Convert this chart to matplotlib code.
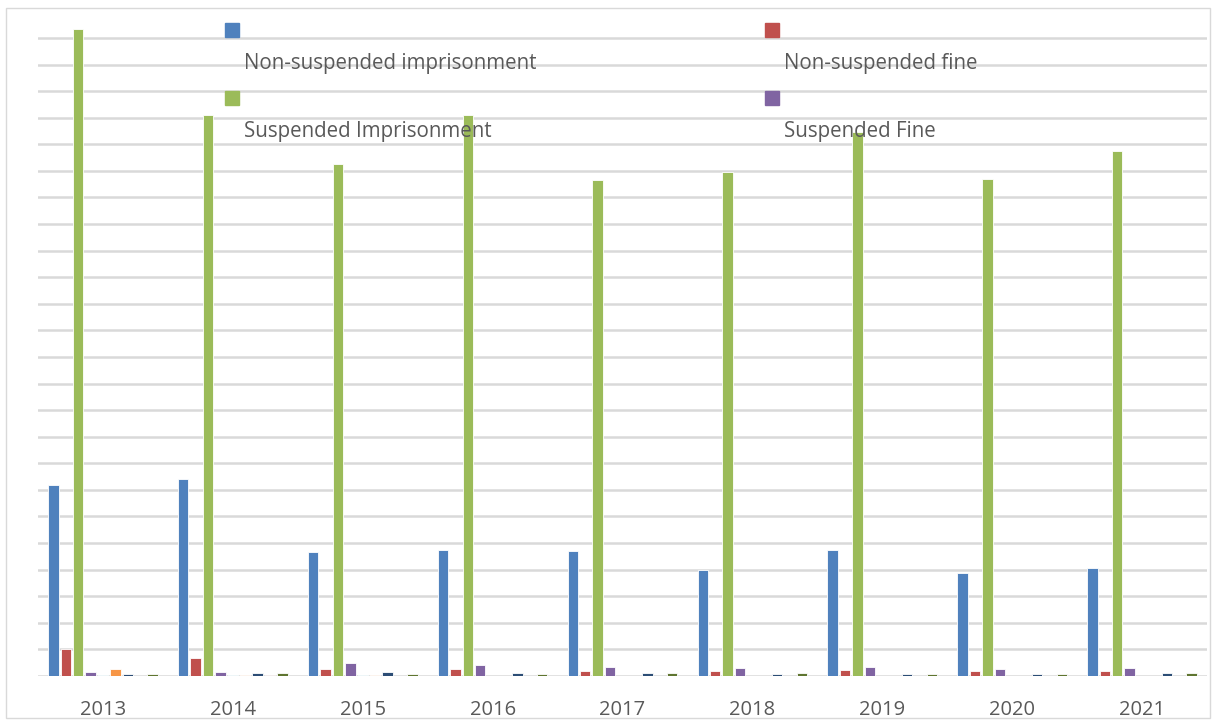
import numpy as np
import matplotlib
matplotlib.use("Agg")
import matplotlib.pyplot as plt
from matplotlib.patches import Rectangle

plt.rcParams['font.family'] = ['Open Sans', 'DejaVu Sans']

years = ["2013", "2014", "2015", "2016", "2017", "2018", "2019", "2020", "2021"]

# values, in gridline units (the chart has no y labels)
non_susp_imprisonment = [7.17, 7.42, 4.67, 4.73, 4.69, 4.00, 4.73, 3.86, 4.08]
non_susp_fine = [1.00, 0.66, 0.28, 0.26, 0.20, 0.17, 0.24, 0.19, 0.19]
susp_imprisonment = [24.33, 21.10, 19.26, 21.10, 18.66, 18.96, 20.47, 18.70, 19.75]
susp_fine = [0.15, 0.15, 0.50, 0.41, 0.34, 0.31, 0.35, 0.26, 0.29]
other_1 = [0.02, 0.02, 0.02, 0.0, 0.0, 0.0, 0.0, 0.0, 0.0]
other_2 = [0.25, 0.05, 0.02, 0.0, 0.0, 0.0, 0.0, 0.0, 0.0]
other_3 = [0.09, 0.10, 0.16, 0.11, 0.10, 0.08, 0.09, 0.07, 0.10]
other_4 = [0.0, 0.03, 0.0, 0.0, 0.0, 0.0, 0.0, 0.0, 0.0]
other_5 = [0.09, 0.10, 0.06, 0.07, 0.11, 0.10, 0.08, 0.08, 0.11]

series = [non_susp_imprisonment, non_susp_fine, susp_imprisonment, susp_fine,
          other_1, other_2, other_3, other_4, other_5]
colors = ["#4F81BD", "#C0504D", "#9BBB59", "#8064A2", "#4BACC6",
          "#F79646", "#2C4D75", "#772C2A", "#5F7530"]

fig = plt.figure(figsize=(12.13, 7.24), dpi=100)
ax = fig.add_axes([38/1213, 1-676/724, (1207-38)/1213, (676-10)/724])

x = np.arange(len(years))
slot = 0.0955
for k, (vals, c) in enumerate(zip(series, colors)):
    ax.bar(x + (k-4)*slot, vals, width=0.08, color=c, edgecolor="white",
           linewidth=0.6, zorder=3)

ax.set_xlim(-0.5, len(years)-0.5)
ax.set_ylim(0, 25.05)
for g in range(0, 25):
    ax.axhline(g, color="#d9d9d9", linewidth=1.8, zorder=1)
ax.set_xticks(x)
ax.set_xticklabels(years, fontsize=14.5, color="#595959")
ax.tick_params(axis="x", length=0, pad=17)
ax.set_yticks([])
for s in ax.spines.values():
    s.set_visible(False)

# legend: coloured square above its label, two columns
legend = [("Non-suspended imprisonment", colors[0], 225, 23),
          ("Non-suspended fine", colors[1], 765, 23),
          ("Suspended Imprisonment", colors[2], 225, 91),
          ("Suspended Fine", colors[3], 765, 91)]
for label, c, px, py in legend:
    fig.add_artist(Rectangle((px/1213, 1-(py+14)/724), 14/1213, 14/724,
                             transform=fig.transFigure, color=c, zorder=5))
    fig.text((px+19)/1213, 1-(py+40)/724, label, fontsize=14.8, color="#595959",
             va="center", ha="left", zorder=6)

fig.add_artist(Rectangle((6/1213, 1-718/724), 1204/1213, 710/724,
                         transform=fig.transFigure, fill=False,
                         edgecolor="#d9d9d9", linewidth=1))

fig.savefig("out.png", dpi=100)
